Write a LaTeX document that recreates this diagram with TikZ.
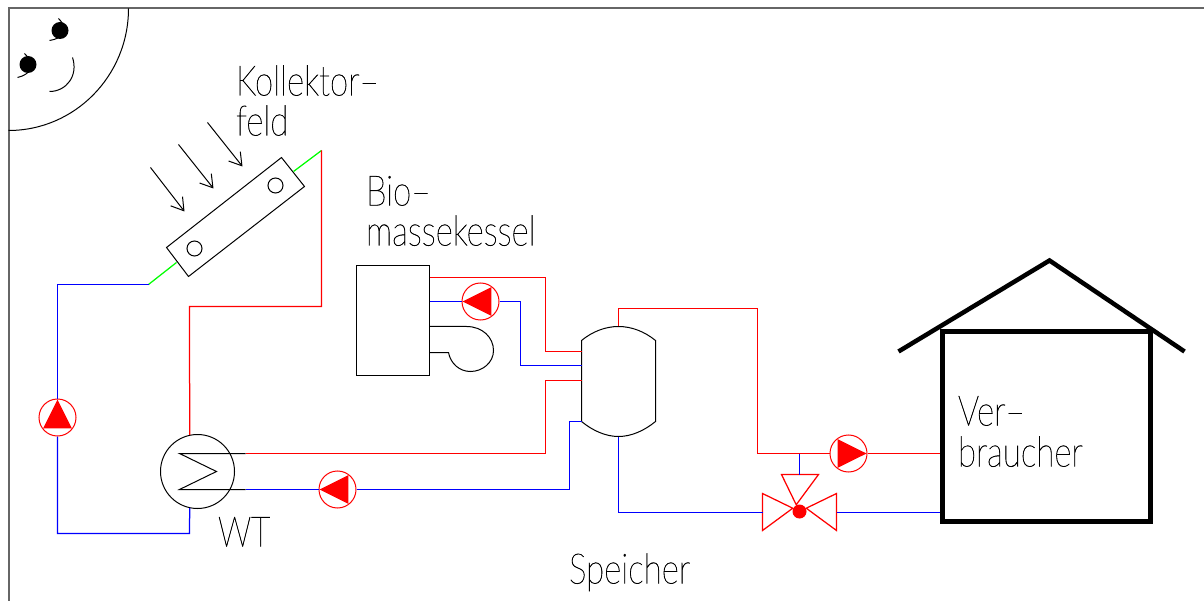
\documentclass[tikz,border=0pt]{standalone}
\usepackage{fontspec}
\usetikzlibrary{arrows.meta,calc}
\newfontfamily\cadfont[FakeStretch=0.79,FakeBold=1]{Lato Thin}
\tikzset{
pipered/.style={draw=red, line width=1.25pt},
pipeblue/.style={draw=blue, line width=1.25pt},
pipegreen/.style={draw=green, line width=1.25pt},
pump/.style={circle, draw=red, fill=white, line width=1pt, minimum size=37pt, inner sep=0pt},
label/.style={anchor=base west, inner sep=0pt, font=\cadfont\fontsize{42}{42}\selectfont},
ray/.style={line width=1pt, -{Straight Barb[length=12pt,width=15pt,line width=1pt]}}
}
\begin{document}
\begin{tikzpicture}[x=1pt,y=-1pt,line width=1pt]
\useasboundingbox (0,0) rectangle (1204,601);
\begin{scope}[shift={(0.5,0.5)}]
\draw[line width=2pt, black!60] (1204,8) -- (8,8) -- (8,601);
\draw (128,8) arc (0:90:120 and 122);
\draw (58,18) .. controls (70,30) and (62,38) .. (49,40);
\draw (24,53) .. controls (36,65) and (30,74) .. (17,77);
\node[circle, fill, minimum size=17pt, inner sep=0pt] (eye0) at (59.5,30){};
\node[circle, fill, minimum size=17pt, inner sep=0pt] (eye1) at (27.5,64){};
\draw (72,57) .. controls (78,75) and (66,91) .. (49,91);
\draw (281,157) -- (304,186) -- (188,276) -- (166,247) -- cycle;
\node[circle, draw, minimum size=15pt, inner sep=0pt] (port0) at (275,185){};
\node[circle, draw, minimum size=15pt, inner sep=0pt] (port1) at (194,248){};
\draw[ray] (150,167) -- (184,211);
\draw[ray] (178,144) -- (213,188);
\draw[ray] (207,122) -- (242,166);
\node[circle, draw, minimum size=74pt, inner sep=0pt] (wt) at (197,471){};
\coordinate (col0) at (293,171);
\coordinate (col1) at (321,150);
\coordinate (col2) at (176,262);
\coordinate (col3) at (148,284);
\coordinate (wt0) at (245,453);
\coordinate (wt1) at (245,489);
\draw (wt0) -- (179,453) -- (216,471) -- (179,489) -- (wt1);
\node[pump] (pump0) at (57,417){};
\node[pump] (pump1) at (337,489){};
\node[pump] (pump2) at (480,301){};
\node[pump] (pump3) at (848,453){};
\foreach \n/\a in {pump0/270, pump1/180, pump2/180, pump3/0}
\fill[red] ($(\n)+(\a:18)$) -- ($(\n)+(\a+127:18)$) -- ($(\n)+(\a-127:18)$) -- cycle;
\node[draw, minimum width=73pt, minimum height=110pt, inner sep=0pt] (boiler) at (392.5,320){};
\coordinate (boil0) at (429,277);
\coordinate (boil1) at (429,301);
\draw (429,326) -- (466,326) .. controls (482,326) and (493,337) .. (493,350) .. controls (493,362) and (482,371) .. (470,371) .. controls (459,371) and (450,363) .. (448,352) -- (429,352);
\draw (581,340) .. controls (592,331) and (605,326) .. (618,326) .. controls (631,326) and (644,331) .. (655,340) -- (655,421) .. controls (644,430) and (631,436) .. (618,436) .. controls (605,436) and (592,430) .. (581,421) -- cycle;
\coordinate (st0) at (581,351);
\coordinate (st1) at (581,365);
\coordinate (st2) at (581,380);
\coordinate (st3) at (581,421);
\coordinate (st4) at (618,326);
\coordinate (st5) at (618,436);
\draw[pipegreen] (col0) -- (col1);
\draw[pipegreen] (col2) -- (col3);
\draw[pipered] (col1) -- (321,306) -- (189,306) -- (wt.102);
\draw[pipeblue] (col3) -- (57,284) -- (pump0);
\draw[pipeblue] (pump0) -- (57,533) -- (189,533) -- (wt.258);
\draw[pipered] (wt0) -- (545,453) -- (545,380) -- (st2);
\draw[pipeblue] (wt1) -- (pump1);
\draw[pipeblue] (pump1) -- (569,489) -- (569,421) -- (st3);
\draw[pipered] (boil0) -- (545,277) -- (545,351) -- (st0);
\draw[pipeblue] (boil1) -- (pump2);
\draw[pipeblue] (pump2) -- (520,301) -- (520,365) -- (st1);
\node[circle, fill=red, minimum size=14pt, inner sep=0pt] (valve) at (799,511){};
\coordinate (valve0) at (762,512);
\coordinate (valve1) at (836,512);
\coordinate (valve2) at (799,474);
\coordinate (tee) at (799,453);
\draw[pipered] (valve) -- (762,493) -- (762,530) -- cycle;
\draw[pipered] (valve) -- (836,493) -- (836,530) -- cycle;
\draw[pipered] (valve) -- (781,474) -- (818,474) -- cycle;
\node[draw, line width=5pt, minimum width=208pt, minimum height=190pt, inner sep=0pt] (house) at (1046,426){};
\draw[line width=4.5pt] (898,351) -- (1049,260) -- (1184,351);
\draw[pipered] (st4) -- (618,308) -- (757,308) -- (757,453) -- (tee);
\draw[pipered] (tee) -- (pump3);
\draw[pipered] (pump3) -- (house.west |- pump3);
\draw[pipeblue] (tee) -- (valve2);
\draw[pipeblue] (st5) -- (618,512) -- (valve0);
\draw[pipeblue] (valve1) -- (house.west |- valve1);
\node[label] (lab0) at (235,95){Kollektor–};
\node[label] (lab1) at (235,135){feld};
\node[label] (lab2) at (365,205){Bio–};
\node[label] (lab3) at (365,245){massekessel};
\node[label] (lab4) at (957,425){Ver–};
\node[label] (lab5) at (957,466){braucher};
\node[label] (lab6) at (217,546){WT};
\node[label] (lab7) at (568,583){Speicher};
\end{scope}
\end{tikzpicture}
\end{document}
